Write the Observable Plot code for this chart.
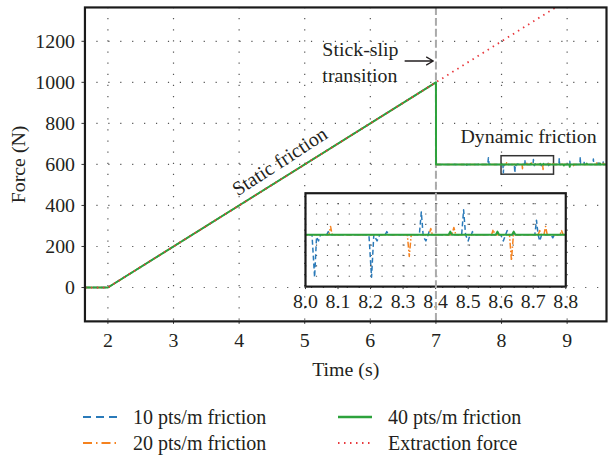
<!DOCTYPE html>
<html>
<head>
<meta charset="utf-8">
<script src="https://cdn.jsdelivr.net/npm/d3@7"></script>
<script src="https://cdn.jsdelivr.net/npm/@observablehq/plot@0.6"></script>
<style>
  html, body { margin: 0; padding: 0; background: white; overflow: hidden; }
  #wrap { position: relative; width: 608px; height: 458px; overflow: hidden; font-family: "Liberation Serif", serif; color: #231f20; }
  #chart { position: absolute; left: 0; top: 0; }
  .leg { position: absolute; font-size: 20px; line-height: 20px; white-space: nowrap; }
  .leg svg { position: absolute; left: 0; top: 5px; }
  .leg span { position: absolute; top: 0; }
</style>
</head>
<body>
<div id="wrap"><div id="chart"></div><div id="legend"></div></div>
<script>
// ---- data ----
const xTicks = [2, 3, 4, 5, 6, 7, 8, 9];
const yTicks = [0, 200, 400, 600, 800, 1000, 1200];
const insetXTicks = [8.0, 8.1, 8.2, 8.3, 8.4, 8.5, 8.6, 8.7, 8.8];
const insetYGrid = [560, 570, 580, 590, 600, 610, 620, 630];
const transitionTime = [7];
const zoomWindow = [{x1: 8.0, x2: 8.8, y1: 550, y2: 640}];

const seriesNames = ["10 pts/m friction", "20 pts/m friction", "40 pts/m friction", "Extraction force"];

const friction10 = [
  [1.65,0],[2,0],[7,1000],[7.002,600],[7.45,600],[7.46,606],[7.47,596],[7.475,600],
  [7.79,600],[7.80,632],[7.81,600],
  [8.02,600],[8.028,559],[8.034,598],[8.04,594],[8.046,600],[8.065,600],[8.07,603],[8.075,600],
  [8.195,600],[8.203,559],[8.21,600],[8.22,594],[8.228,600],[8.245,600],[8.25,603],[8.255,600],
  [8.35,600],[8.356,622],[8.362,598],[8.37,594],[8.377,600],[8.38,603],[8.385,600],
  [8.48,600],[8.486,624],[8.492,600],[8.50,594],[8.506,600],[8.51,600],[8.513,603],[8.518,600],
  [8.60,600],[8.608,594],[8.615,600],[8.62,604],[8.626,600],
  [8.705,600],[8.710,614],[8.715,600],[8.72,594],[8.726,600],[8.755,600],[8.76,597],[8.765,600],
  [8.875,600],[8.88,630],[8.885,600],[9.035,600],[9.04,616],[9.045,600],
  [9.195,600],[9.20,636],[9.205,600],[9.255,600],[9.26,610],[9.265,600],
  [9.395,600],[9.40,626],[9.405,600],[9.465,600],[9.47,616],[9.475,600],
  [9.545,600],[9.55,612],[9.555,600],[9.6,600]
];
const friction20 = [
  [1.65,0],[2,0],[7,1000],[7.002,600],[7.775,600],[7.78,605],[7.785,600],
  [8.072,600],[8.077,608],[8.082,600],[8.313,600],[8.319,579],[8.325,600],
  [8.38,600],[8.385,606],[8.39,600],[8.45,600],[8.456,607],[8.462,600],
  [8.572,600],[8.577,605],[8.582,600],[8.627,600],[8.633,575],[8.639,600],
  [8.715,600],[8.72,604],[8.725,600],[8.733,600],[8.738,608],[8.743,600],
  [8.782,600],[8.787,604],[8.792,600],[8.915,600],[8.92,606],[8.925,600],
  [9.095,600],[9.1,594],[9.105,600],[9.445,600],[9.45,607],[9.455,600],
  [9.545,600],[9.55,606],[9.555,600],[9.6,600]
];
const friction40 = [
  [1.65,0],[2,0],[7,1000],[7.002,600],[8.44,600],[8.445,603],[8.45,600],
  [8.585,600],[8.59,603],[8.595,600],[8.635,600],[8.64,603],[8.645,600],
  [8.945,600],[8.95,595],[8.955,600],[9.035,600],[9.04,588],[9.045,600],
  [9.295,600],[9.3,604],[9.305,600],[9.495,600],[9.5,605],[9.505,600],[9.6,600]
];
const extraction = [[1.65,0],[2,0],[9.6,1520]];

// ---- styles ----
const C10 = "#2a7ab9", C20 = "#f5821f", C40 = "#2ca23c", CEX = "#e8383d";
const TXT = "#231f20";
const FONT = "Liberation Serif, serif";

function seriesMarks(clip) {
  return [
    Plot.line(friction10, {x: d => d[0], y: d => d[1], stroke: C10, strokeWidth: 1.5, strokeDasharray: "5,3", strokeLinecap: "butt", clip}),
    Plot.line(friction20, {x: d => d[0], y: d => d[1], stroke: C20, strokeWidth: 1.5, strokeDasharray: "6,2,1.5,2", strokeLinecap: "butt", clip}),
    Plot.line(friction40, {x: d => d[0], y: d => d[1], stroke: C40, strokeWidth: 2, clip}),
    Plot.line(extraction, {x: d => d[0], y: d => d[1], stroke: CEX, strokeWidth: 1.8, strokeDasharray: "1.5,4.5", strokeLinecap: "butt", clip})
  ];
}

const INSET_W = 296, INSET_H = 135;
function insetMark() {
  const svg = Plot.plot({
    width: INSET_W, height: INSET_H,
    marginLeft: 15, marginRight: 19, marginTop: 9, marginBottom: 32,
    style: {background: "transparent", fontFamily: FONT, fontSize: "20px", color: TXT},
    x: {domain: [8.0, 8.8]},
    y: {domain: [550, 640], axis: null},
    marks: [
      Plot.frame({fill: "white", stroke: null}),
      Plot.gridY(insetYGrid, {stroke: "#555", strokeOpacity: 1, strokeWidth: 1.2, strokeDasharray: "1.2,9.8"}),
      Plot.gridX(insetXTicks, {stroke: "#555", strokeOpacity: 1, strokeWidth: 1.2, strokeDasharray: "1.2,9.2"}),
      ...seriesMarks(true),
      Plot.frame({stroke: "#1a1a1a", strokeWidth: 2.2}),
      Plot.axisX(insetXTicks, {tickSize: 3, tickPadding: 4.5, tickFormat: d3.format(".1f"), label: null, stroke: "#333"})
    ]
  });
  svg.setAttribute("x", 292);
  svg.setAttribute("y", 185);
  svg.style.width = INSET_W + "px";
  svg.style.height = INSET_H + "px";
  svg.style.maxWidth = "none";
  svg.style.overflow = "visible";
  return svg;
}

const chart = Plot.plot({
  width: 612, height: 390,
  marginLeft: 85, marginRight: 2, marginTop: 7, marginBottom: 67,
  style: {background: "white", fontFamily: FONT, fontSize: "20px", color: TXT},
  x: {domain: [1.65, 9.6]},
  y: {domain: [-165, 1365]},
  marks: [
    Plot.gridY(yTicks, {stroke: "#555", strokeOpacity: 1, strokeWidth: 1.2, strokeDasharray: "1.2,10.8"}),
    Plot.gridX(xTicks, {stroke: "#555", strokeOpacity: 1, strokeWidth: 1.2, strokeDasharray: "1.2,10"}),
    Plot.axisX(xTicks, {tickSize: 3, tickPadding: 9, label: null, stroke: "#333", tickFormat: d => String(d)}),
    Plot.axisY(yTicks, {tickSize: 3, tickPadding: 7, label: null, stroke: "#333", tickFormat: d => String(d)}),
    Plot.text(["Time (s)"], {frameAnchor: "bottom", dy: 49, lineAnchor: "middle", textAnchor: "middle", fontSize: 20, fill: TXT}),
    Plot.text(["Force (N)"], {frameAnchor: "left", dx: -67, rotate: -90, textAnchor: "middle", lineAnchor: "middle", fontSize: 20, fill: TXT}),
    insetMark,
    Plot.ruleX(transitionTime, {stroke: "#aaa", strokeWidth: 2, strokeDasharray: "8,3"}),
    Plot.rect(zoomWindow, {x1: "x1", x2: "x2", y1: "y1", y2: "y2", fill: "none", stroke: "#333", strokeWidth: 1.5}),
    ...seriesMarks(true),
    Plot.text([{t: 4.62, f: 614, s: "Static friction"}], {x: "t", y: "f", text: "s", rotate: -33, fontSize: 20, fill: TXT}),
    Plot.text([{t: 5.269, f: 1104, s: "Stick-slip\ntransition"}], {x: "t", y: "f", text: "s", textAnchor: "start", lineAnchor: "middle", lineHeight: 1.3, fontSize: 20, fill: TXT}),
    Plot.arrow([{t1: 6.53, t2: 6.96, f: 1104}], {x1: "t1", x2: "t2", y1: "f", y2: "f", stroke: TXT, strokeWidth: 1.3, headLength: 9}),
    Plot.text([{t: 7.374, f: 736, s: "Dynamic friction"}], {x: "t", y: "f", text: "s", textAnchor: "start", fontSize: 20, fill: TXT}),
    Plot.frame({stroke: "#1a1a1a", strokeWidth: 2.2})
  ]
});
document.getElementById("chart").appendChild(chart);

// ---- legend ----
const legendItems = [
  {name: seriesNames[0], color: C10, dash: "8,5", width: 1.8, left: 83, top: 407},
  {name: seriesNames[1], color: C20, dash: "9,4,1.5,4", width: 1.8, left: 83, top: 433},
  {name: seriesNames[2], color: C40, dash: null, width: 2.5, left: 338, top: 407},
  {name: seriesNames[3], color: CEX, dash: "1.5,4.5", width: 1.8, left: 338, top: 433}
];
const legend = document.getElementById("legend");
for (const it of legendItems) {
  const div = document.createElement("div");
  div.className = "leg";
  div.style.left = it.left + "px";
  div.style.top = it.top + "px";
  div.innerHTML = `<svg width="34" height="10"><line x1="0" x2="34" y1="5" y2="5" stroke="${it.color}" stroke-width="${it.width}" ${it.dash ? `stroke-dasharray="${it.dash}"` : ""}/></svg><span style="left:50px">${it.name}</span>`;
  legend.appendChild(div);
}
</script>
</body>
</html>
